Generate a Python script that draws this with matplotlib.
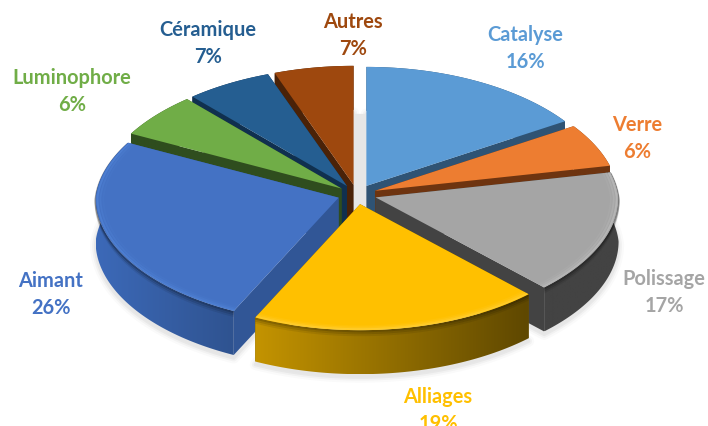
import numpy as np
import matplotlib
matplotlib.use('Agg')
import matplotlib.pyplot as plt
from matplotlib.collections import LineCollection
from matplotlib.colors import to_rgb
from matplotlib.patches import Polygon

labels = ["Catalyse", "Verre", "Polissage", "Alliages", "Aimant", "Luminophore", "Céramique", "Autres"]
percent_labels = [16, 6, 17, 19, 26, 6, 7, 7]
# parts des secteurs (les % affichés font 104 au total)
shares = [16.0, 5.7, 16.1, 19.3, 25.4, 5.9, 6.0, 5.6]

top_colors = ["#5B9BD5", "#ED7D31", "#A5A5A5", "#FFC000", "#4472C4", "#70AD47", "#255E91", "#9E480E"]
text_colors = ["#5B9BD5", "#ED7D31", "#A5A5A5", "#FFC000", "#4472C4", "#70AD47", "#255E91", "#9E480E"]
wall_left = ["#2F5374", "#6E3410", "#434343", "#C39300", "#3C69B8", "#2F4D1E", "#10304F", "#4A2208"]
wall_right = ["#2F5374", "#6E3410", "#434343", "#5F4800", "#2F5390", "#2F4D1E", "#10304F", "#4A2208"]
rim_light = [None, None, "#C4C4C4", "#FFD54A", "#5488DC", None, None, None]
label_xy = [(525, 48.5), (637, 138.5), (664, 292.5), (438, 410.5), (51, 294.5), (72, 91.5), (208, 43.5), (353, 35.5)]
draw_order = [7, 6, 5, 0, 1, 2, 4, 3]

CX, CY = 357, 195.5
RX, RY = 243, 122.5
DEPTH = 44
EXPLODE = 0.08

plt.rcParams['font.family'] = ['Lato', 'DejaVu Sans']

fig = plt.figure(figsize=(7.08, 4.27), dpi=100, facecolor='white')
ax = fig.add_axes([0, 0, 1, 1])

edges = np.concatenate([[0], np.cumsum(shares)]) / np.sum(shares) * 360


def rim(theta, apex, scale=1.0):
    # un peu de perspective : l'arrière du disque est plus petit que l'avant
    ry = RY - 3.5 * np.cos(theta)
    rx = RX * (1 - 0.06 * np.clip(np.cos(theta), 0, None))
    return apex[0] + scale * rx * np.sin(theta), apex[1] - scale * ry * np.cos(theta)


def mix(c1, c2, t):
    return tuple((1 - t) * a + t * b for a, b in zip(to_rgb(c1), to_rgb(c2)))


slices = []
for i in range(len(shares)):
    t0, t1 = np.radians(edges[i]), np.radians(edges[i + 1])
    mid = (t0 + t1) / 2
    apex = (CX + EXPLODE * RX * np.sin(mid), CY - EXPLODE * RY * np.cos(mid))
    th = np.linspace(t0, t1, 120)
    x, y = rim(th, apex)
    slices.append((th, x, y, apex))

# ombre portée
for lw, a in [(8, 0.02), (5, 0.03), (2.5, 0.04)]:
    for i in range(len(shares)):
        th, x, y, apex = slices[i]
        pts = np.c_[np.r_[apex[0], x], np.r_[apex[1], y] + DEPTH + 3]
        ax.add_patch(Polygon(pts, fc='none', ec=(0, 0, 0, a), lw=lw, zorder=1, joinstyle='round'))
for i in range(len(shares)):
    th, x, y, apex = slices[i]
    pts = np.c_[np.r_[apex[0], x], np.r_[apex[1], y] + DEPTH + 3]
    ax.add_patch(Polygon(pts, fc='#E6E6E6', ec='none', zorder=1))
sx, sy = rim(np.linspace(0, 2 * np.pi, 200), (CX, CY + DEPTH - 14), 0.93)
ax.add_patch(Polygon(np.c_[sx, sy], fc='#E6E6E6', ec='none', zorder=1))

z = 2
for i in draw_order:
    th, x, y, apex = slices[i]
    # faces de coupe
    for k in (0, -1):
        face = [apex, (x[k], y[k]), (x[k], y[k] + DEPTH), (apex[0], apex[1] + DEPTH)]
        ax.add_patch(Polygon(face, fc=mix(wall_left[i], wall_right[i], 0.85), ec='none', zorder=z))
    # paroi extérieure, en dégradé de gauche à droite
    wall = Polygon(np.c_[np.r_[x, x[::-1]], np.r_[y, y[::-1] + DEPTH]], fc='none', ec='none',
                   transform=ax.transData)
    ax.add_patch(wall)
    ramp = np.array([[mix(wall_left[i], wall_right[i], t) for t in np.linspace(0, 1, 64)]])
    im = ax.imshow(ramp, extent=[x.min(), x.max(), y.max() + DEPTH, y.min()], aspect='auto',
                   interpolation='bilinear', zorder=z)
    im.set_clip_path(wall)
    # assombrissement juste sous le bord
    if rim_light[i] is not None:
        for d, a in [(1, 0.3), (3, 0.18), (5, 0.08)]:
            ax.plot(x, y + d, color=(0, 0, 0, a), lw=1.5, zorder=z, solid_capstyle='butt')
    # dessus du secteur
    ax.add_patch(Polygon(np.c_[np.r_[apex[0], x], np.r_[apex[1], y]], fc=top_colors[i], ec='none', zorder=z))
    # biseau clair le long du bord
    if rim_light[i] is not None:
        for s, a, lw in [(0.992, 0.55, 1.3), (0.98, 0.28, 1.3), (0.968, 0.1, 1.3)]:
            bx, by = rim(th, apex, s)
            ax.add_collection(LineCollection([np.c_[bx, by]], colors=[(*to_rgb(rim_light[i]), a)],
                                             linewidths=lw, zorder=z))
    z += 1

for i, name in enumerate(labels):
    ax.text(label_xy[i][0], label_xy[i][1], f"{name}\n{percent_labels[i]}%", color=text_colors[i],
            fontsize=14.4, fontweight='bold', ha='center', va='center', linespacing=1.38, zorder=30)

ax.set_xlim(0, 708)
ax.set_ylim(427, 0)
ax.axis('off')

plt.savefig('out.png', dpi=100, facecolor='white')
plt.close()
